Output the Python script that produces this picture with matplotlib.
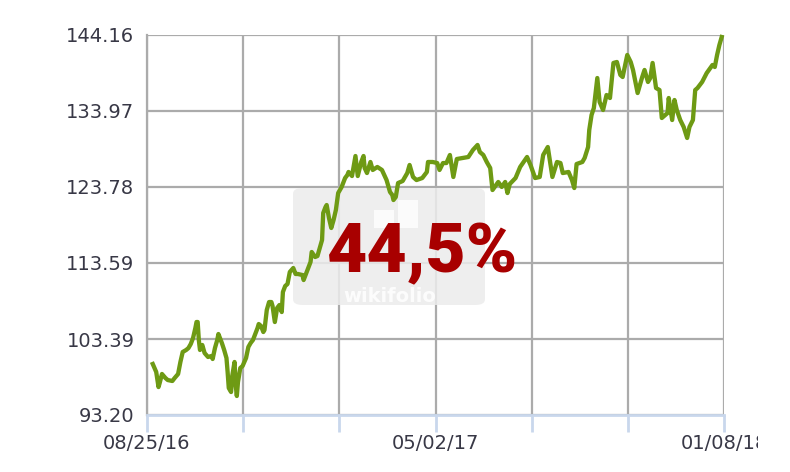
import matplotlib
matplotlib.use('Agg')
import matplotlib.pyplot as plt
from matplotlib.patches import FancyBboxPatch, Rectangle
from matplotlib.transforms import Bbox, TransformedBbox

# Tage seit 25.08.2016 und Kurswerte
days = [5, 8, 10, 11, 13, 16, 18, 22, 24, 27, 29, 31, 34, 36, 38, 40, 42, 43, 44, 45,
        46, 48, 50, 53, 56, 57, 59, 61, 62, 63, 65, 67, 69, 70, 71, 73, 74, 76, 77, 78,
        79, 81, 83, 86, 88, 90, 92, 94, 96, 97, 99, 101, 102, 104, 106, 108, 109, 111, 113, 115,
        117, 118, 120, 122, 124, 127, 129, 131, 135, 136, 138, 142, 143, 146, 148, 149, 152, 153, 155, 156,
        158, 160, 162, 164, 166, 169, 172, 174, 175, 178, 181, 183, 186, 188, 189, 191, 194, 196, 200, 204,
        208, 211, 213, 214, 216, 218, 222, 226, 228, 231, 234, 239, 243, 244, 248, 252, 254, 257, 260, 263,
        266, 269, 274, 279, 283, 287, 289, 292, 295, 298, 300, 305, 308, 311, 313, 315, 320, 324, 330, 333,
        337, 341, 344, 348, 352, 356, 359, 361, 366, 369, 371, 373, 378, 380, 383, 384, 386, 388, 391, 393,
        396, 399, 402, 405, 408, 411, 413, 417, 420, 422, 426, 430, 432, 435, 437, 439, 442, 445, 447, 452,
        453, 456, 458, 460, 463, 466, 469, 471, 474, 476, 478, 482, 486, 491, 493, 495, 497, 499]
values = [100.04, 98.97, 96.95, 97.49, 98.70, 98.16, 97.89, 97.76, 98.16, 98.70, 100.31, 101.65, 101.92, 102.18, 102.72, 103.53, 104.87, 105.67, 105.67, 103.26,
          101.92, 102.59, 101.51, 100.98, 101.11, 100.71, 102.18, 103.26, 104.06, 103.66, 102.86, 101.92, 100.84, 98.97, 96.82, 96.28, 98.43, 100.31, 97.22, 95.75,
          97.63, 99.50, 99.77, 100.84, 102.32, 102.86, 103.26, 104.06, 104.87, 105.40, 105.14, 104.33, 104.60, 107.28, 108.35, 108.35, 107.82, 105.67, 107.55, 107.95,
          107.01, 109.69, 110.50, 110.77, 112.38, 112.91, 112.11, 112.11, 111.97, 111.30, 112.11, 113.72, 115.06, 114.39, 114.52, 115.06, 116.67, 120.29, 121.09, 121.36,
          119.62, 118.28, 119.35, 120.69, 122.97, 123.78, 124.98, 125.39, 125.79, 125.25, 127.93, 125.25, 127.13, 127.93, 126.32, 125.65, 127.13, 126.06, 126.46, 126.06,
          124.71, 123.11, 122.70, 122.03, 122.43, 124.31, 124.58, 125.65, 126.73, 125.12, 124.71, 124.98, 125.79, 127.13, 127.13, 126.99, 126.06, 126.99, 126.99, 128.07,
          125.12, 127.53, 127.67, 127.80, 128.74, 129.41, 128.47, 128.07, 127.13, 126.32, 123.37, 124.45, 123.78, 124.45, 122.97, 124.18, 124.98, 126.46, 127.80, 126.73,
          124.98, 125.12, 128.07, 129.14, 125.12, 127.13, 126.99, 125.65, 125.79, 124.71, 123.64, 126.86, 127.13, 127.67, 129.14, 131.42, 133.43, 134.37, 138.39, 135.18,
          134.10, 136.11, 135.71, 140.41, 140.54, 138.80, 138.53, 141.48, 140.54, 139.47, 136.38, 138.53, 139.47, 137.86, 138.39, 140.41, 137.05, 136.78, 133.03, 133.70,
          135.71, 132.76, 135.44, 134.10, 132.76, 131.82, 130.35, 131.82, 132.76, 136.78, 137.05, 137.86, 139.06, 140.14, 139.87, 141.48, 142.82, 143.89]

y_ticks = [93.20, 103.39, 113.59, 123.78, 133.97, 144.16]
x_ticks = [0, 83.5, 167, 250.5, 334, 417.5, 501]
x_labels = ['08/25/16', '', '', '05/02/17', '', '', '01/08/18']
performance = '44,5%'

grid_col = '#ababab'
axis_blue = '#c9d7ec'
text_col = '#383846'

fig = plt.figure(figsize=(7.9, 4.72), dpi=100)
ax = fig.add_axes([147 / 790, 57 / 472, 577 / 790, 380 / 472])
ax.set_xlim(0, 501)
ax.set_ylim(93.20, 144.16)

ax.set_yticks(y_ticks)
ax.set_yticklabels(['%.2f' % v for v in y_ticks])
ax.set_xticks(x_ticks)
ax.set_xticklabels(x_labels)
ax.grid(True, color=grid_col, linewidth=1.6)
ax.set_axisbelow(True)

ax.spines['left'].set_color(grid_col)
ax.spines['left'].set_linewidth(1.6)
ax.spines['right'].set_visible(False)
ax.spines['top'].set_visible(False)
ax.spines['bottom'].set_color(axis_blue)
ax.spines['bottom'].set_linewidth(2)

ax.tick_params(axis='y', length=0, pad=9, labelsize=14, labelcolor=text_col)
ax.tick_params(axis='x', length=12, width=2, color=axis_blue, pad=2,
               labelsize=14, labelcolor=text_col)

# letztes Datum ist im Original abgeschnitten
last = ax.get_xticklabels()[-1]
last.set_clip_on(True)
last.set_clip_box(TransformedBbox(Bbox([[0, 0], [758 / 790, 1]]), fig.transFigure))

# Wasserzeichen
wm = FancyBboxPatch((293 / 790, 1 - 305 / 472), 192 / 790, 117 / 472,
                    boxstyle='round,pad=0,rounding_size=0.012',
                    transform=fig.transFigure, facecolor='#ececec', edgecolor='none',
                    alpha=0.85, zorder=1.5)
ax.add_artist(wm)
for x0, y0, w, h in [(374, 210, 20, 18), (398, 200, 20, 28)]:
    ax.add_artist(Rectangle((x0 / 790, 1 - (y0 + h) / 472), w / 790, h / 472,
                            transform=fig.transFigure, facecolor='white',
                            edgecolor='none', alpha=0.8, zorder=1.6))
ax.text(390 / 790, 1 - 296 / 472, 'wikifolio', transform=fig.transFigure,
        ha='center', va='center', fontsize=14, fontweight='bold', color='white',
        alpha=0.85, zorder=1.6)

ax.plot(days, values, color='#6e9a14', linewidth=3.1, solid_joinstyle='round',
        zorder=3, clip_on=False)

fig.text(423 / 790, 1 - 272 / 472, performance, ha='center', va='baseline',
         fontsize=50, fontweight='black', color='#a80000',
         family=['Roboto', 'DejaVu Sans'], zorder=5)

fig.savefig('out.png', dpi=100)
